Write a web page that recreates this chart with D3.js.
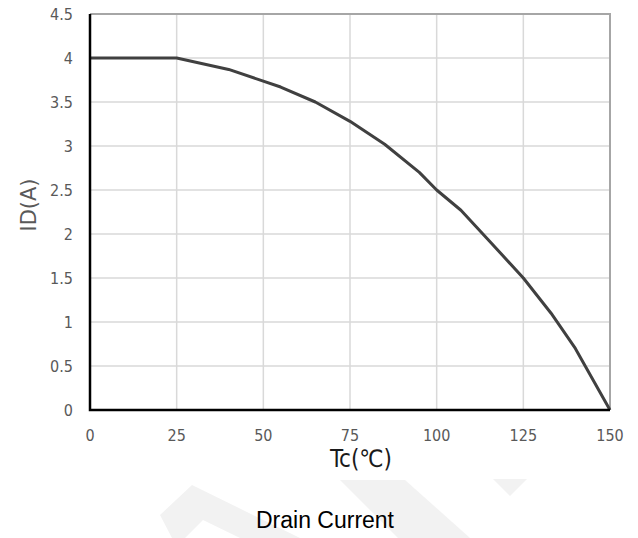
<!doctype html>
<html>
<head>
	<script src="https://d3js.org/d3.v7.min.js"></script>
	<style>
		body { margin: 0; background-color: white; }
	</style>
</head>
<body>
	<!-- the chart goes here -->
	<div id="my_dataviz"></div>
	<script>
		// data
		var tempC = [0, 25, 40, 55, 65, 75, 85, 95, 100, 107, 115, 125, 133, 140, 150];
		var drainA = [4, 4, 3.87, 3.67, 3.5, 3.28, 3.02, 2.7, 2.5, 2.27, 1.93, 1.5, 1.1, 0.7, 0];
		var xTicks = [0, 25, 50, 75, 100, 125, 150];
		var yTicks = [0, 0.5, 1, 1.5, 2, 2.5, 3, 3.5, 4, 4.5];

		var data = tempC.map(function(t, i) { return {t: t, id: drainA[i]}; });

		var width = 638, height = 538;
		var margin = {top: 14, right: 28, bottom: 128, left: 90};

		var svg = d3.select("#my_dataviz")
		  .append("svg")
			.attr("width", width)
			.attr("height", height)
			.style("display", "block");

		svg.append("rect").attr("width", width).attr("height", height).attr("fill", "white");

		// faint watermark shapes behind the title
		var marks = [
			[[160, 515], [192, 485], [300, 538], [240, 538], [203, 520], [185, 538], [172, 538]],
			[[340, 480], [405, 480], [470, 538], [398, 538]],
			[[493, 479], [527, 479], [510, 496]]
		];
		svg.append("g")
		  .selectAll("polygon")
		  .data(marks)
		  .enter()
		  .append("polygon")
			.attr("points", function(d) { return d.map(function(p) { return p.join(","); }).join(" "); })
			.attr("fill", "#f2f2f2");

		// scales
		var x = d3.scaleLinear()
			.domain([0, 150])
			.range([margin.left, width - margin.right]);
		var y = d3.scaleLinear()
			.domain([0, 4.5])
			.range([height - margin.bottom, margin.top]);

		// grid
		svg.append("g")
		  .selectAll("line")
		  .data(xTicks.slice(1, -1))
		  .enter()
		  .append("line")
			.attr("x1", function(d) { return x(d); })
			.attr("x2", function(d) { return x(d); })
			.attr("y1", y(0))
			.attr("y2", y(4.5))
			.attr("stroke", "#d9d9d9")
			.attr("stroke-width", 1.5);
		svg.append("g")
		  .selectAll("line")
		  .data(yTicks.slice(1, -1))
		  .enter()
		  .append("line")
			.attr("x1", x(0))
			.attr("x2", x(150))
			.attr("y1", function(d) { return y(d); })
			.attr("y2", function(d) { return y(d); })
			.attr("stroke", "#d9d9d9")
			.attr("stroke-width", 1.5);

		// top and right border
		svg.append("path")
			.attr("d", "M" + x(0) + "," + y(4.5) + "H" + x(150) + "V" + y(0))
			.attr("fill", "none")
			.attr("stroke", "#a6a6a6")
			.attr("stroke-width", 2);

		// the curve
		var line = d3.line()
			.x(function(d) { return x(d.t); })
			.y(function(d) { return y(d.id); });
		svg.append("path")
			.datum(data)
			.attr("d", line)
			.attr("fill", "none")
			.attr("stroke", "#404040")
			.attr("stroke-width", 3)
			.attr("stroke-linejoin", "round");

		// left and bottom axis lines
		svg.append("path")
			.attr("d", "M" + x(0) + "," + y(4.5) + "V" + y(0) + "H" + x(150))
			.attr("fill", "none")
			.attr("stroke", "black")
			.attr("stroke-width", 2.5);

		var tickFont = "'Liberation Sans Narrow', 'DejaVu Sans Condensed', sans-serif";

		// tick labels
		svg.append("g")
		  .selectAll("text")
		  .data(yTicks)
		  .enter()
		  .append("text")
			.attr("x", 73)
			.attr("y", function(d) { return y(d); })
			.attr("dy", "0.35em")
			.attr("text-anchor", "end")
			.style("font-family", tickFont)
			.style("font-size", "16px")
			.attr("fill", "#595959")
			.text(function(d) { return d; });
		svg.append("g")
		  .selectAll("text")
		  .data(xTicks)
		  .enter()
		  .append("text")
			.attr("x", function(d) { return x(d); })
			.attr("y", 441)
			.attr("text-anchor", "middle")
			.style("font-family", tickFont)
			.style("font-size", "16px")
			.attr("fill", "#595959")
			.text(function(d) { return d; });

		// axis titles
		svg.append("text")
			.attr("transform", "translate(36,205) rotate(-90)")
			.attr("text-anchor", "middle")
			.style("font-family", "'DejaVu Sans', sans-serif")
			.style("font-size", "21px")
			.attr("fill", "#595959")
			.text("ID(A)");
		svg.append("text")
			.attr("x", 361)
			.attr("y", 467)
			.attr("text-anchor", "middle")
			.style("font-family", tickFont)
			.style("font-size", "24px")
			.attr("fill", "#1a1a1a")
			.text("Tc(℃)");

		// chart title
		svg.append("text")
			.attr("x", 325)
			.attr("y", 528)
			.attr("text-anchor", "middle")
			.style("font-family", "'Liberation Sans', Arial, sans-serif")
			.style("font-size", "23px")
			.attr("fill", "black")
			.text("Drain Current");
	</script>
</body>
</html>
